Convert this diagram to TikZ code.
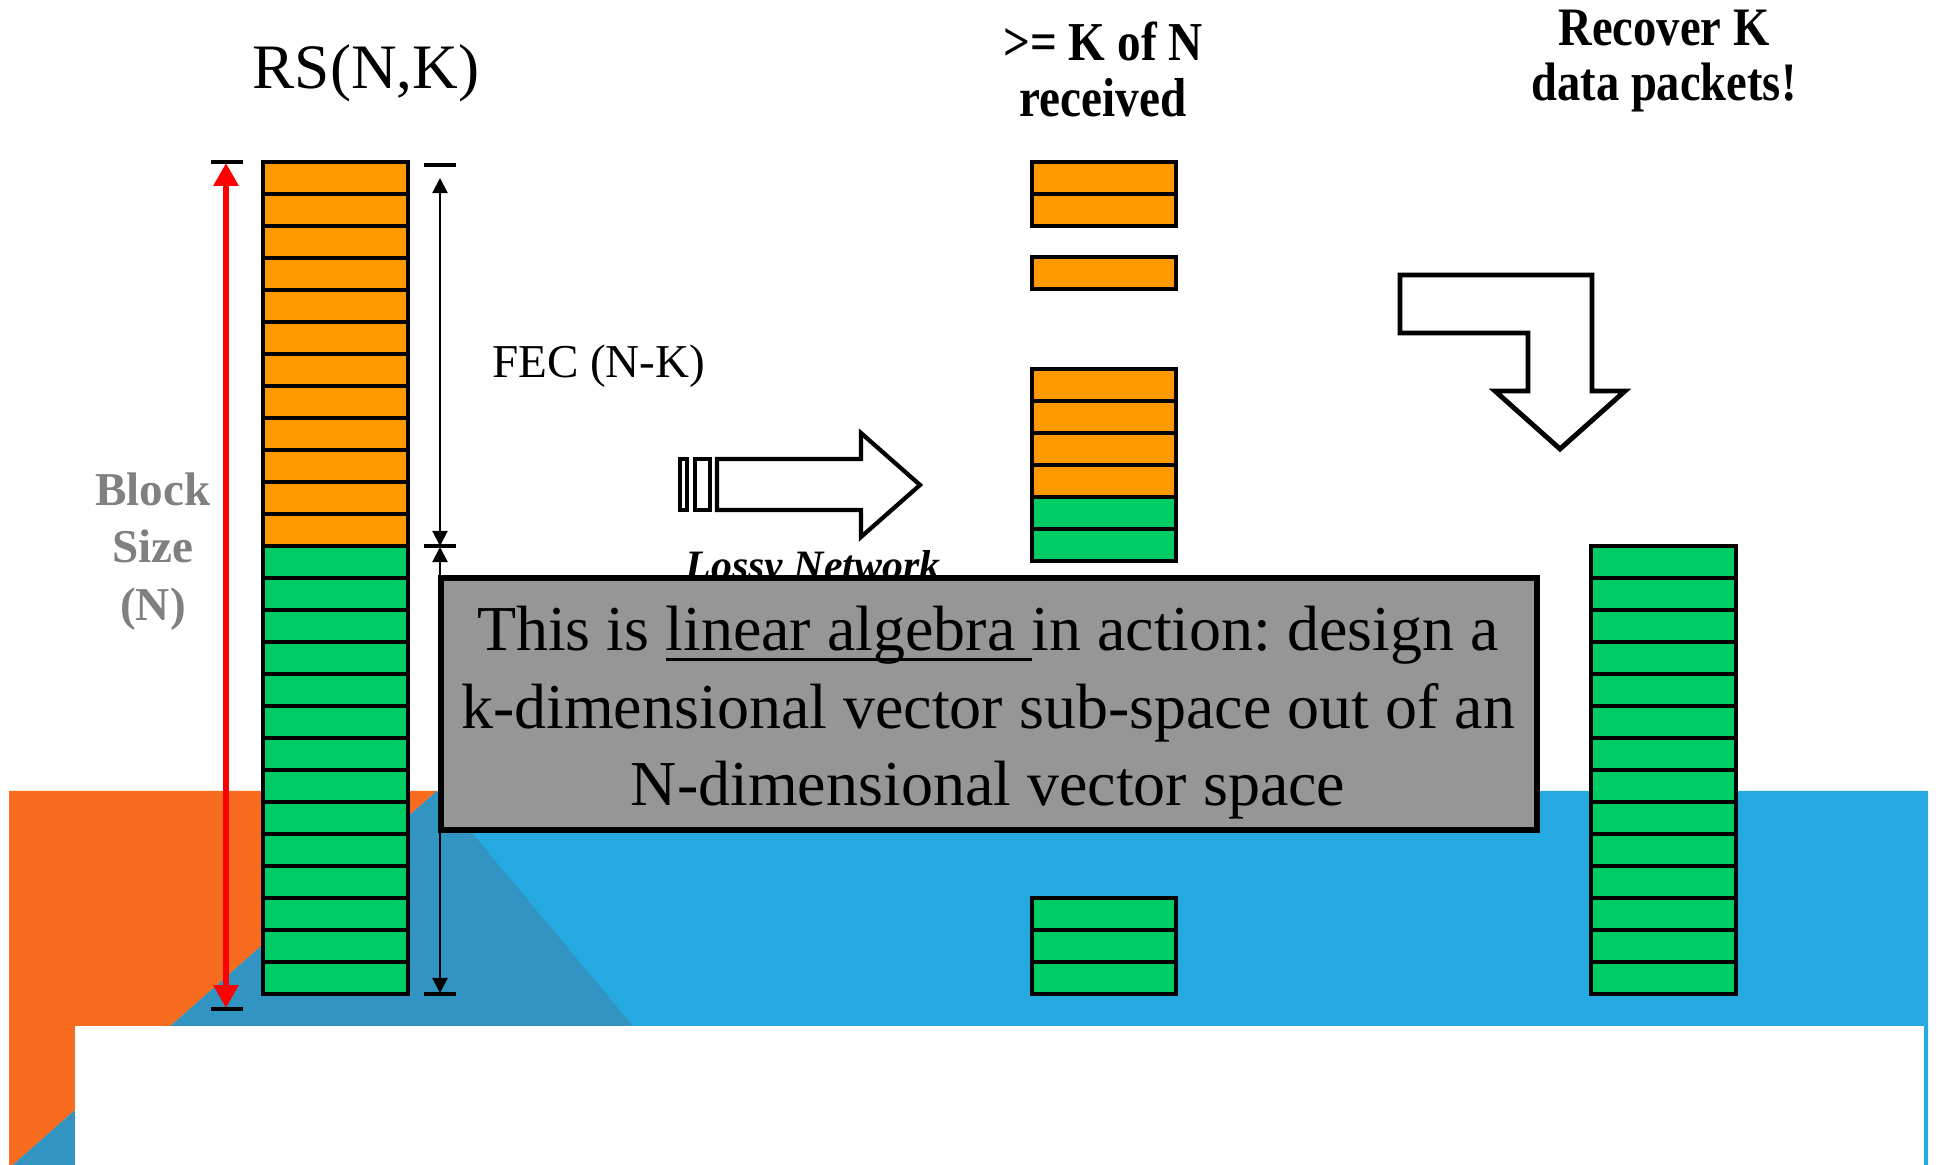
\documentclass[tikz,border=0pt]{standalone}
\usepackage{fontspec}
\setmainfont{Liberation Serif}
\newfontfamily\condfont[FakeStretch=0.86]{Liberation Serif}
\usetikzlibrary{arrows.meta}
\frenchspacing
\definecolor{pktorange}{RGB}{255,153,0}
\definecolor{pktgreen}{RGB}{0,204,102}
\definecolor{bgorange}{RGB}{247,108,30}
\definecolor{bgblue}{RGB}{36,170,224}
\definecolor{bgdark}{RGB}{50,148,195}
\definecolor{boxgray}{RGB}{150,150,150}
\definecolor{labelgray}{RGB}{128,128,128}
\newcommand\myul[1]{\setbox0\hbox{#1}\rlap{\rule[-0.16em]{\wd0}{0.055em}}\box0}
\begin{document}
\begin{tikzpicture}[x=0.01cm,y=-0.01cm,
  cell/.style={draw=black,line width=0.9pt},
  ocell/.style={cell,fill=pktorange},
  gcell/.style={cell,fill=pktgreen},
  tickline/.style={draw=black,line width=0.9pt},
  dimarrow/.style={draw=black,line width=0.6pt,{Triangle[length=4.3pt,width=4.3pt]}-{Triangle[length=4.3pt,width=4.3pt]}},
  redarrow/.style={draw=red,line width=1.8pt,{Triangle[length=6.5pt,width=6.8pt]}-{Triangle[length=6.5pt,width=6.8pt]}},
  hollow/.style={draw=black,line width=1.2pt,fill=white,line join=miter},
  lbl/.style={anchor=base,inner sep=0pt,outer sep=0pt},
  graybox/.style={draw=black,line width=1.5pt,fill=boxgray}]
\useasboundingbox (0,0) rectangle (1937,1165);
\fill[white] (0,0) rectangle (1937,1165);
% background
\fill[bgorange] (9,791) -- (437,791) -- (13,1165) -- (9,1165) -- cycle;
\fill[bgblue] (437,791) -- (1928,791) -- (1928,1165) -- (13,1165) -- cycle;
\fill[bgdark] (437,791) -- (749,1165) -- (13,1165) -- cycle;
\fill[white] (75,1026) rectangle (1924,1165);
% left column
\foreach \i in {0,...,11} \filldraw[ocell] (263,162+32*\i) rectangle +(145,32);
\foreach \i in {0,...,13} \filldraw[gcell] (263,546+32*\i) rectangle +(145,32);
% middle column
\foreach \y in {162,194,257,369,401,433,465} \filldraw[ocell] (1032,\y) rectangle +(144,32);
\foreach \y in {497,529,898,930,962} \filldraw[gcell] (1032,\y) rectangle +(144,32);
% right column
\foreach \i in {0,...,13} \filldraw[gcell] (1591,546+32*\i) rectangle +(145,32);
% red block-size arrow
\coordinate (rtop) at (226,163);
\coordinate (rbot) at (226,1008);
\draw[redarrow] (rtop) -- (rbot);
\draw[tickline] (211,162) -- (243,162);
\draw[tickline] (211,1009) -- (243,1009);
% black dimension arrows
\coordinate (dtop) at (440,178);
\coordinate (dmid) at (440,546);
\coordinate (dmidb) at (440,547);
\coordinate (dbot) at (440,993);
\draw[dimarrow] (dtop) -- (dmid);
\draw[dimarrow] (dmidb) -- (dbot);
\draw[tickline] (424,165) -- (456,165);
\draw[tickline] (424,546) -- (456,546);
\draw[tickline] (424,994) -- (456,994);
% texts
\node[lbl] (rs) at (366,89) {\fontsize{18pt}{21pt}\selectfont RS(N,K)};
\node[lbl,anchor=base west] (fec) at (492,378) {\fontsize{13.4pt}{15pt}\selectfont FEC (N-K)};
\node[lbl,text=labelgray] (bs1) at (153,506) {\fontsize{13.4pt}{16pt}\selectfont\bfseries Block};
\node[lbl,text=labelgray] (bs2) at (153,563) {\fontsize{13.4pt}{16pt}\selectfont\bfseries Size};
\node[lbl,text=labelgray] (bs3) at (153,621) {\fontsize{13.4pt}{16pt}\selectfont\bfseries (N)};
\node[lbl] (rc1) at (1103,61) {\condfont\fontsize{15.6pt}{18pt}\selectfont\bfseries >= K of N};
\node[lbl] (rc2) at (1103,117) {\condfont\fontsize{15.6pt}{18pt}\selectfont\bfseries received};
\node[lbl] (rv1) at (1664,46) {\condfont\fontsize{15.4pt}{18pt}\selectfont\bfseries Recover K};
\node[lbl] (rv2) at (1664,101) {\condfont\fontsize{15.4pt}{18pt}\selectfont\bfseries data packets!};
\node[lbl] (lossy) at (813,580) {\fontsize{11.9pt}{14pt}\selectfont\bfseries\itshape Lossy Network};
% hollow right arrow
\draw[hollow] (680,459) rectangle (687,510);
\draw[hollow] (695,459) rectangle (710,510);
\draw[hollow] (717,459) -- (861,459) -- (861,433) -- (920,485) -- (861,537) -- (861,510) -- (717,510) -- cycle;
% bent down arrow
\draw[hollow,line width=1.4pt] (1400,275) -- (1592,275) -- (1592,391) -- (1625,391) -- (1560,449) -- (1495,391) -- (1528,391) -- (1528,333) -- (1400,333) -- cycle;
% gray box
\draw[graybox] (441,578) rectangle (1537,830);
\node[lbl] (t1) at (988,651) {\fontsize{18.2pt}{22pt}\selectfont This is \myul{linear algebra }in action: design a};
\node[lbl] (t2) at (988,729) {\fontsize{18.2pt}{22pt}\selectfont k-dimensional vector sub-space out of an};
\node[lbl] (t3) at (988,806) {\fontsize{18.2pt}{22pt}\selectfont N-dimensional vector space};
\end{tikzpicture}
\end{document}
